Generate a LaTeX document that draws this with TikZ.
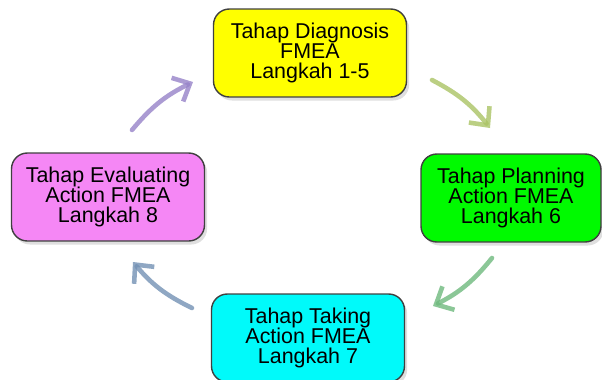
\documentclass[tikz,border=0pt]{standalone}
\usepackage{fontspec}
\setmainfont{Liberation Sans}
\usetikzlibrary{arrows.meta,shadows}

\definecolor{diagyellow}{RGB}{255,255,0}
\definecolor{planngreen}{RGB}{0,250,0}
\definecolor{takecyan}{RGB}{0,250,250}
\definecolor{evalpink}{RGB}{245,135,245}
\definecolor{arrpurple}{RGB}{150,130,200}
\definecolor{arrolive}{RGB}{170,195,100}
\definecolor{arrgreen}{RGB}{110,185,125}
\definecolor{arrblue}{RGB}{115,145,180}

\begin{document}
\begin{tikzpicture}[x=0.02cm,y=-0.02cm]
    \useasboundingbox (0,0) rectangle (602,379);

    \begin{scope}[every node/.style={rectangle,rounded corners=9pt,draw=black!75,thick,
        minimum width=3.86cm,minimum height=1.76cm,align=center,
        font=\fontsize{12.2}{11.6}\selectfont,
        drop shadow={opacity=0.25,shadow xshift=1.5pt,shadow yshift=-2pt}}]
      \node[fill=diagyellow] (diag) at (310,53) {Tahap Diagnosis\\FMEA\\Langkah 1-5};
      \node[fill=planngreen,minimum width=3.6cm] (plan) at (511,198) {Tahap Planning\\Action FMEA\\Langkah 6};
      \node[fill=takecyan] (take) at (308,338) {Tahap Taking\\Action FMEA\\Langkah 7};
      \node[fill=evalpink] (eval) at (108,197) {Tahap Evaluating\\Action FMEA\\Langkah 8};
    \end{scope}

    % loose ends of the arrows
    \coordinate (d1) at (432,80);
    \coordinate (d2) at (490,128);
    \coordinate (p1) at (492,258);
    \coordinate (p2) at (433,306);
    \coordinate (t1) at (192,308);
    \coordinate (t2) at (133,262);
    \coordinate (e1) at (132,130);
    \coordinate (e2) at (193,82);

    \begin{scope}[>={Straight Barb[length=8pt,width=15pt]},line width=2.6pt,line cap=round,opacity=0.8]
      \draw [->,arrolive] (d1) to[bend left=12] (d2);
      \draw [->,arrgreen] (p1) to[bend left=12] (p2);
      \draw [->,arrblue] (t1) to[bend left=12] (t2);
      \draw [->,arrpurple] (e1) to[bend left=12] (e2);
    \end{scope}
\end{tikzpicture}
\end{document}
